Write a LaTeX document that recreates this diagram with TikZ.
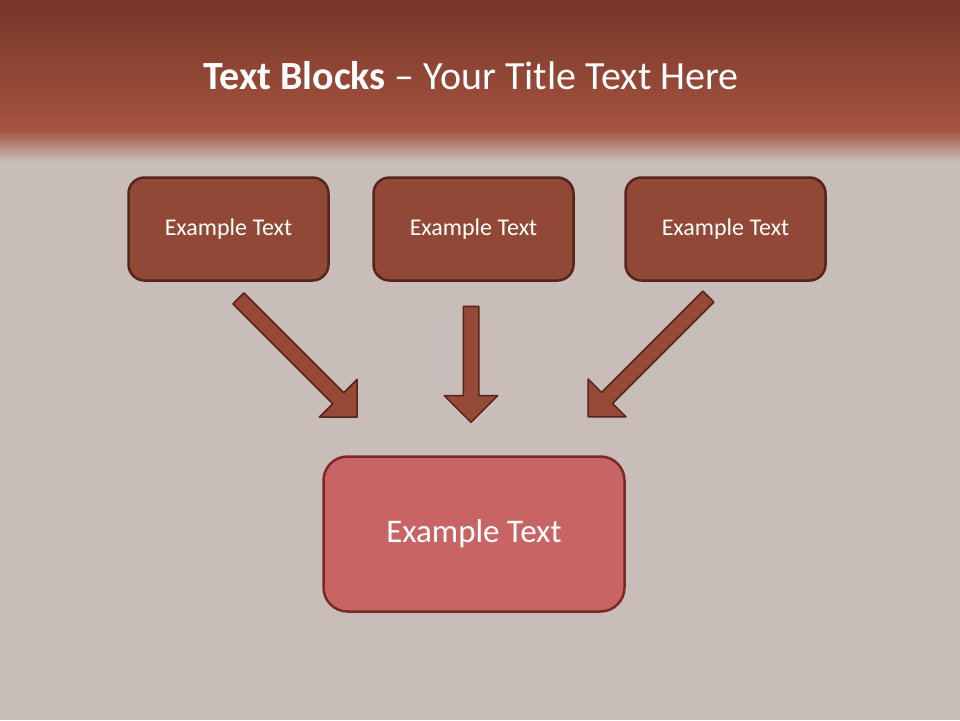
\documentclass[tikz,border=0pt]{standalone}
\usepackage{fontspec}
\setmainfont{Carlito}
\usetikzlibrary{shapes.arrows}
\definecolor{topbrown}{HTML}{763629}
\definecolor{bandbrown}{HTML}{A5533F}
\definecolor{slidegrey}{HTML}{C9BDB9}
\definecolor{boxfill}{HTML}{924837}
\definecolor{boxline}{HTML}{55241B}
\definecolor{mainfill}{HTML}{C86464}
\definecolor{mainline}{HTML}{7A2A26}
\definecolor{arrowfill}{HTML}{954937}
\begin{document}
\begin{tikzpicture}[x=1pt,y=-1pt,line join=round,
    smallbox/.style={draw=boxline,fill=boxfill,line width=2.5pt,rounded corners=16pt,
      minimum width=200pt,minimum height=103pt,text=white,font=\fontsize{24}{28}\selectfont},
    mainbox/.style={draw=mainline,fill=mainfill,line width=2.5pt,rounded corners=24pt,
      minimum width=301pt,minimum height=155pt,text=white,font=\fontsize{33}{38}\selectfont},
    blockarrow/.style={single arrow,draw=boxline,fill=arrowfill,line width=1.5pt,
      inner xsep=0pt,inner ysep=7pt,single arrow head extend=19pt,single arrow tip angle=90,
      minimum height=#1}]
    \useasboundingbox (0,0) rectangle (960,720);
    % fond
    \fill[slidegrey] (0,0) rectangle (960,720);
    \shade[top color=topbrown,bottom color=bandbrown] (0,0) rectangle (960,130);
    \shade[top color=bandbrown,bottom color=slidegrey] (0,130) rectangle (960,162);
    \node[text=white,font=\fontsize{40}{46}\selectfont] (title) at (471,76)
      {\textbf{Text Blocks} – Your Title Text Here};
    % blocs
    \node[smallbox] (b1) at (228.5,229) {Example Text};
    \node[smallbox] (b2) at (473.5,229) {Example Text};
    \node[smallbox] (b3) at (725.5,229) {Example Text};
    \node[mainbox] (m) at (474,534) {Example Text};
    % fleches
    \node[blockarrow=168pt,rotate=-45] (a1) at (295,355) {};
    \node[blockarrow=116pt,rotate=-90] (a2) at (471,360.5) {};
    \node[blockarrow=170pt,rotate=-135] (a3) at (651,354) {};
\end{tikzpicture}
\end{document}
